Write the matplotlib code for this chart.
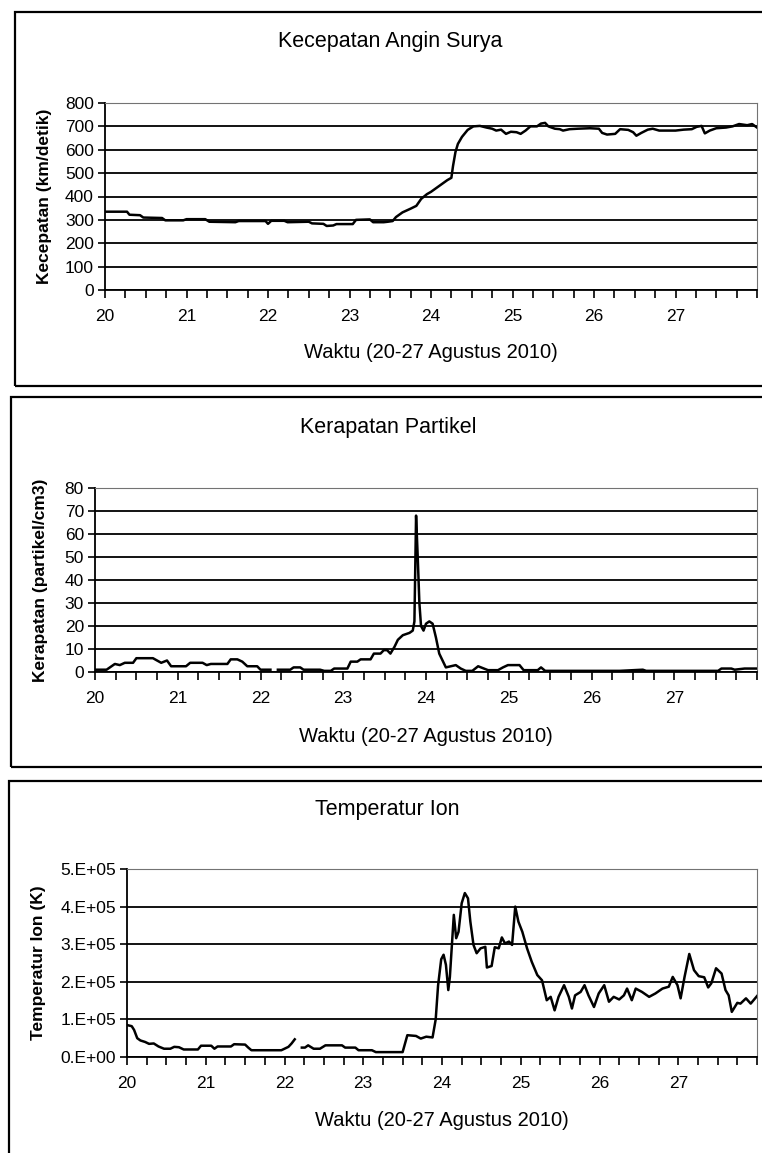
import numpy as np
import matplotlib
matplotlib.use("Agg")
import matplotlib.pyplot as plt
from matplotlib.patches import Rectangle
from matplotlib.ticker import MultipleLocator, FuncFormatter

plt.rcParams['font.family'] = ['Liberation Sans', 'DejaVu Sans']

nan = np.nan

# kecepatan angin surya (km/detik)
speed_t = [20.00, 20.27, 20.30, 20.43, 20.47, 20.70, 20.74, 20.96, 21.00, 21.23, 21.28, 21.60,
           21.64, 21.97, 22.00, 22.04, 22.20, 22.24, 22.50, 22.54, 22.68, 22.72, 22.80, 22.84,
           23.04, 23.08, 23.25, 23.29, 23.42, 23.47, 23.53, 23.57, 23.65, 23.75, 23.82, 23.88,
           23.95, 24.00, 24.10, 24.20, 24.25, 24.27, 24.30, 24.33, 24.38, 24.45, 24.52, 24.60,
           24.68, 24.75, 24.80, 24.86, 24.92, 24.98, 25.05, 25.10, 25.16, 25.22, 25.30, 25.35,
           25.40, 25.44, 25.52, 25.58, 25.62, 25.70, 25.80, 25.95, 26.06, 26.10, 26.16, 26.26,
           26.32, 26.42, 26.48, 26.52, 26.58, 26.66, 26.72, 26.80, 26.90, 27.00, 27.10, 27.20,
           27.26, 27.32, 27.36, 27.42, 27.50, 27.62, 27.70, 27.78, 27.88, 27.94, 28.00]
speed_v = [335, 335, 322, 320, 310, 308, 298, 298, 303, 303, 292, 290,
           295, 295, 283, 296, 296, 290, 292, 285, 283, 274, 276, 282,
           282, 300, 302, 290, 290, 292, 295, 312, 332, 348, 360, 390,
           410, 420, 445, 470, 480, 530, 590, 625, 655, 685, 700, 702,
           695, 690, 682, 686, 668, 677, 675, 668, 682, 700, 700, 712,
           715, 700, 690, 688, 682, 688, 690, 692, 690, 672, 665, 668,
           688, 685, 675, 660, 672, 686, 690, 682, 682, 682, 686, 688,
           698, 702, 670, 682, 692, 695, 700, 710, 705, 710, 695]

# kerapatan partikel (partikel/cm3), nan = data kosong
dens_t = [20.00, 20.14, 20.18, 20.24, 20.30, 20.36, 20.46, 20.50, 20.70, 20.75, 20.80, 20.87,
          20.92, 21.10, 21.15, 21.30, 21.35, 21.40, 21.60, 21.64, 21.72, 21.78, 21.84, 21.96,
          22.00, 22.12, 22.16, 22.21, 22.36, 22.40, 22.48, 22.52, 22.72, 22.77, 22.85, 22.89,
          23.05, 23.09, 23.17, 23.21, 23.33, 23.37, 23.45, 23.49, 23.53, 23.57, 23.62, 23.66,
          23.72, 23.80, 23.84, 23.86, 23.88, 23.90, 23.92, 23.94, 23.97, 24.00, 24.04, 24.08,
          24.12, 24.16, 24.24, 24.30, 24.36, 24.42, 24.48, 24.56, 24.63, 24.70, 24.75, 24.87,
          24.93, 24.99, 25.13, 25.18, 25.35, 25.39, 25.44, 26.34, 26.62, 26.66, 27.53, 27.57,
          27.69, 27.73, 27.85, 28.00]
dens_v = [1, 1, 2, 3.5, 3, 4, 4, 6, 6, 5, 4, 5,
          2.5, 2.5, 4, 4, 3, 3.5, 3.5, 5.5, 5.5, 4.5, 2.5, 2.5,
          1, 1, nan, 1, 1, 2, 2, 1, 1, 0.5, 0.5, 1.5,
          1.5, 4.5, 4.5, 5.5, 5.5, 8, 8, 9.5, 9.5, 8, 11, 14,
          16, 17, 18, 22, 68, 50, 30, 20, 18, 21, 22, 21,
          15, 8, 2, 2.5, 3, 1.5, 0.5, 0.5, 2.5, 1.5, 0.8, 0.8,
          2, 3, 3, 0.8, 0.8, 2, 0.5, 0.5, 1, 0.5, 0.5, 1.5,
          1.5, 1, 1.5, 1.5]

# temperatur ion (x 1E+05 K), nan = data kosong
temp_t = [20.00, 20.06, 20.09, 20.13, 20.17, 20.23, 20.28, 20.34, 20.40, 20.47, 20.55, 20.60,
          20.66, 20.72, 20.90, 20.94, 21.07, 21.11, 21.15, 21.32, 21.36, 21.50, 21.54, 21.58,
          21.96, 22.00, 22.05, 22.09, 22.13, 22.17, 22.22, 22.26, 22.30, 22.37, 22.45, 22.52,
          22.73, 22.77, 22.90, 22.94, 23.11, 23.16, 23.50, 23.56, 23.67, 23.73, 23.80, 23.88,
          23.92, 23.95, 23.99, 24.02, 24.05, 24.08, 24.10, 24.15, 24.18, 24.21, 24.25, 24.29,
          24.33, 24.36, 24.40, 24.44, 24.49, 24.55, 24.57, 24.63, 24.67, 24.72, 24.76, 24.80,
          24.85, 24.89, 24.93, 24.97, 25.02, 25.08, 25.14, 25.21, 25.27, 25.33, 25.38, 25.43,
          25.48, 25.55, 25.61, 25.65, 25.69, 25.76, 25.81, 25.86, 25.93, 25.99, 26.06, 26.12,
          26.18, 26.25, 26.31, 26.35, 26.41, 26.46, 26.54, 26.63, 26.71, 26.80, 26.88, 26.93,
          26.99, 27.03, 27.08, 27.14, 27.20, 27.26, 27.33, 27.38, 27.42, 27.48, 27.55, 27.60,
          27.64, 27.68, 27.75, 27.79, 27.86, 27.92, 28.00]
temp_v = [0.85, 0.82, 0.72, 0.50, 0.44, 0.40, 0.35, 0.36, 0.28, 0.22, 0.22, 0.27,
          0.26, 0.20, 0.20, 0.30, 0.30, 0.22, 0.28, 0.28, 0.34, 0.33, 0.25, 0.18,
          0.18, 0.22, 0.27, 0.36, 0.47, nan, 0.25, 0.25, 0.31, 0.22, 0.22, 0.31,
          0.31, 0.25, 0.25, 0.18, 0.18, 0.13, 0.13, 0.58, 0.56, 0.49, 0.54, 0.52,
          1.0, 1.9, 2.6, 2.72, 2.45, 1.78, 2.13, 3.78, 3.16, 3.33, 4.09, 4.36,
          4.22, 3.6, 2.98, 2.76, 2.89, 2.93, 2.38, 2.42, 2.92, 2.89, 3.18, 3.02,
          3.07, 2.98, 4.0, 3.6, 3.33, 2.89, 2.53, 2.18, 2.04, 1.51, 1.6, 1.24,
          1.6, 1.91, 1.6, 1.29, 1.64, 1.73, 1.91, 1.64, 1.33, 1.69, 1.91, 1.47,
          1.6, 1.53, 1.64, 1.82, 1.51, 1.82, 1.73, 1.6, 1.69, 1.82, 1.87, 2.13,
          1.91, 1.56, 2.13, 2.74, 2.31, 2.15, 2.12, 1.85, 1.96, 2.36, 2.22, 1.78,
          1.64, 1.2, 1.44, 1.42, 1.56, 1.42, 1.62]

W, H = 762, 1153
fig = plt.figure(figsize=(W / 100, H / 100), dpi=100)
fig.patch.set_facecolor('white')


def px(x0, y0, x1, y1):
    # pixel box (top-left origin) -> figure fraction rect
    return [x0 / W, 1 - y1 / H, (x1 - x0) / W, (y1 - y0) / H]


def panel(rect, t, v, ymax, ystep, title, ylabel, title_y, xlabel_y, ylabel_x, box, yfmt=None):
    # kotak luar
    bx0, by0, bx1, by1 = box
    fig.patches.append(Rectangle((bx0 / W, 1 - by1 / H), (bx1 - bx0) / W, (by1 - by0) / H,
                                 transform=fig.transFigure, fill=False, ec='black', lw=1.6))
    ax = fig.add_axes(rect)
    ax.plot(t, v, color='black', lw=1.8, zorder=3)
    ax.set_xlim(20, 28)
    ax.set_ylim(0, ymax)
    ax.yaxis.set_major_locator(MultipleLocator(ystep))
    ax.xaxis.set_major_locator(MultipleLocator(1))
    ax.xaxis.set_minor_locator(MultipleLocator(0.25))
    ax.xaxis.set_major_formatter(FuncFormatter(lambda x, p: '%d' % x if x < 27.5 else ''))
    if yfmt:
        ax.yaxis.set_major_formatter(FuncFormatter(yfmt))
    ax.grid(axis='y', color='black', lw=1.3, zorder=1)
    ax.tick_params(axis='x', which='both', direction='out', length=6, width=1.2, pad=8, labelsize=12.5)
    ax.tick_params(axis='y', direction='out', length=5, width=1.2, pad=3, labelsize=12.5)
    for s in ('left', 'bottom'):
        ax.spines[s].set_linewidth(1.3)
    for s in ('top', 'right'):
        ax.spines[s].set_color('0.45')
        ax.spines[s].set_linewidth(0.8)
    cx = (rect[0] + rect[2] / 2)
    fig.text((bx0 + bx1 - 10) / 2 / W, 1 - title_y / H, title, ha='center', va='center', fontsize=15.5)
    fig.text(cx, 1 - xlabel_y / H, 'Waktu (20-27 Agustus 2010)', ha='center', va='center', fontsize=14.5)
    fig.text(ylabel_x / W, rect[1] + rect[3] / 2, ylabel, rotation=90, ha='center', va='center',
             fontsize=12.5, fontweight='bold')
    return ax


panel(px(105, 103, 757, 290), speed_t, speed_v, 800, 100, 'Kecepatan Angin Surya',
      'Kecepatan (km/detik)', 42, 352, 45, (15, 12, 775, 386))

panel(px(95, 488, 757, 672), dens_t, dens_v, 80, 10, 'Kerapatan Partikel',
      'Kerapatan (partikel/cm3)', 427, 736, 41, (11, 397, 775, 767))

panel(px(127, 869, 757, 1057), temp_t, np.array(temp_v) * 1e5, 5e5, 1e5, 'Temperatur Ion',
      'Temperatur Ion (K)', 810, 1120, 39, (9, 781, 775, 1165),
      yfmt=lambda y, p: '%#.0E' % y)

fig.savefig('out.png', dpi=100, facecolor='white')
